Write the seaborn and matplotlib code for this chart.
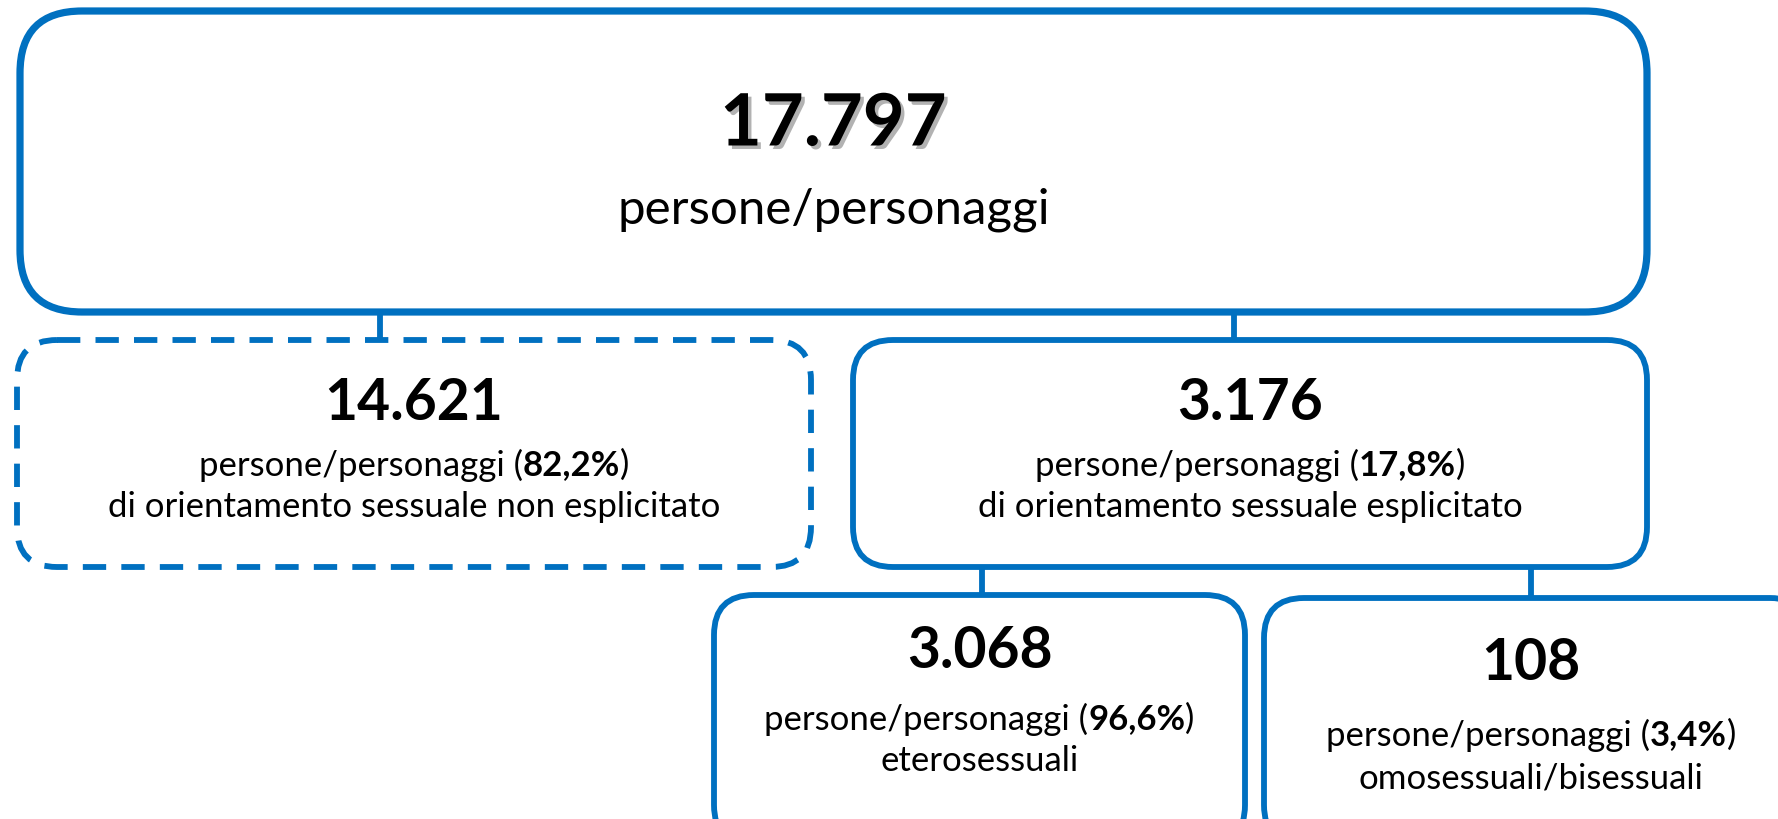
import matplotlib
matplotlib.use('Agg')
import matplotlib.pyplot as plt
import matplotlib.patheffects as pe
from matplotlib.patches import FancyBboxPatch
import seaborn as sns

# Node data (root, then its two children, then the two children of node 2)
node_values = [17797, 14621, 3176, 3068, 108]
node_pcts = [None, '82,2%', '17,8%', '96,6%', '3,4%']
node_desc = ['', 'di orientamento sessuale non esplicitato',
             'di orientamento sessuale esplicitato', 'eterosessuali',
             'omosessuali/bisessuali']
node_parent = [None, 0, 0, 2, 2]
unit_label = 'persone/personaggi'

sns.set_style('white')
plt.rcParams['font.family'] = ['Lato', 'DejaVu Sans']
plt.rcParams['text.color'] = 'black'

BLUE = '#0070C0'
W, H = 1778, 819

# box layout in pixels (x0, y0, x1, y1), style
box_xy = [(20, 11, 1647, 312), (17, 340, 811, 567), (853, 340, 1647, 567),
          (714, 595, 1245, 845), (1264, 598, 1810, 845)]
box_lw = [5.2, 4.2, 4.2, 4.2, 4.2]
box_round = [62, 40, 40, 40, 40]
box_ls = ['solid', (0, (4, 2.6)), 'solid', 'solid', 'solid']
# connector x position for each child
conn_x = [None, 380, 1234, 982, 1531]
# text rows: (value y, line1 y, line2 y, value size, line size)
text_rows = [(125, 210, None, 52, 35.5), (403, 465, 507, 41, 25),
             (403, 465, 507, 41, 25), (652, 719, 761, 41, 25),
             (663, 735, 778, 41, 25)]

fig = plt.figure(figsize=(W / 100, H / 100), dpi=100)
ax = fig.add_axes([0, 0, 1, 1])
ax.set_xlim(0, W)
ax.set_ylim(H, 0)
ax.axis('off')
renderer = fig.canvas.get_renderer()


def fmt(v):
    return f'{v:,}'.replace(',', '.')


def rich_line(parts, x, y, size):
    texts = [ax.text(0, y, s, fontsize=size, fontweight=w, ha='left',
                     va='center', color='black', zorder=5) for s, w in parts]
    widths = [t.get_window_extent(renderer).width for t in texts]
    start = x - sum(widths) / 2
    for t, w in zip(texts, widths):
        t.set_x(start)
        start += w


for i, (x0, y0, x1, y1) in enumerate(box_xy):
    ax.add_patch(FancyBboxPatch((x0, y0), x1 - x0, y1 - y0,
                                boxstyle=f'round,pad=0,rounding_size={box_round[i]}',
                                fc='white', ec=BLUE, lw=box_lw[i], ls=box_ls[i], zorder=2))
    p = node_parent[i]
    if p is not None:
        ax.plot([conn_x[i], conn_x[i]], [box_xy[p][3], y0], color=BLUE, lw=4.2, zorder=1)

    cx = (x0 + x1) / 2 if i != 4 else 1531
    vy, l1, l2, vs, ls = text_rows[i]
    t = ax.text(cx, vy, fmt(node_values[i]), fontsize=vs, fontweight='bold',
                ha='center', va='center', color='black', zorder=5)
    if i == 0:
        t.set_path_effects([pe.withSimplePatchShadow(offset=(2.5, -2.5), shadow_rgbFace='#555555', alpha=0.45)])
        ax.text(cx, l1, unit_label, fontsize=ls, ha='center', va='center', color='black', zorder=5)
    else:
        rich_line([(unit_label + ' (', 'normal'), (node_pcts[i], 'bold'), (')', 'normal')], cx, l1, ls)
        ax.text(cx, l2, node_desc[i], fontsize=ls, ha='center', va='center', color='black', zorder=5)

fig.savefig('out.png', dpi=100)
